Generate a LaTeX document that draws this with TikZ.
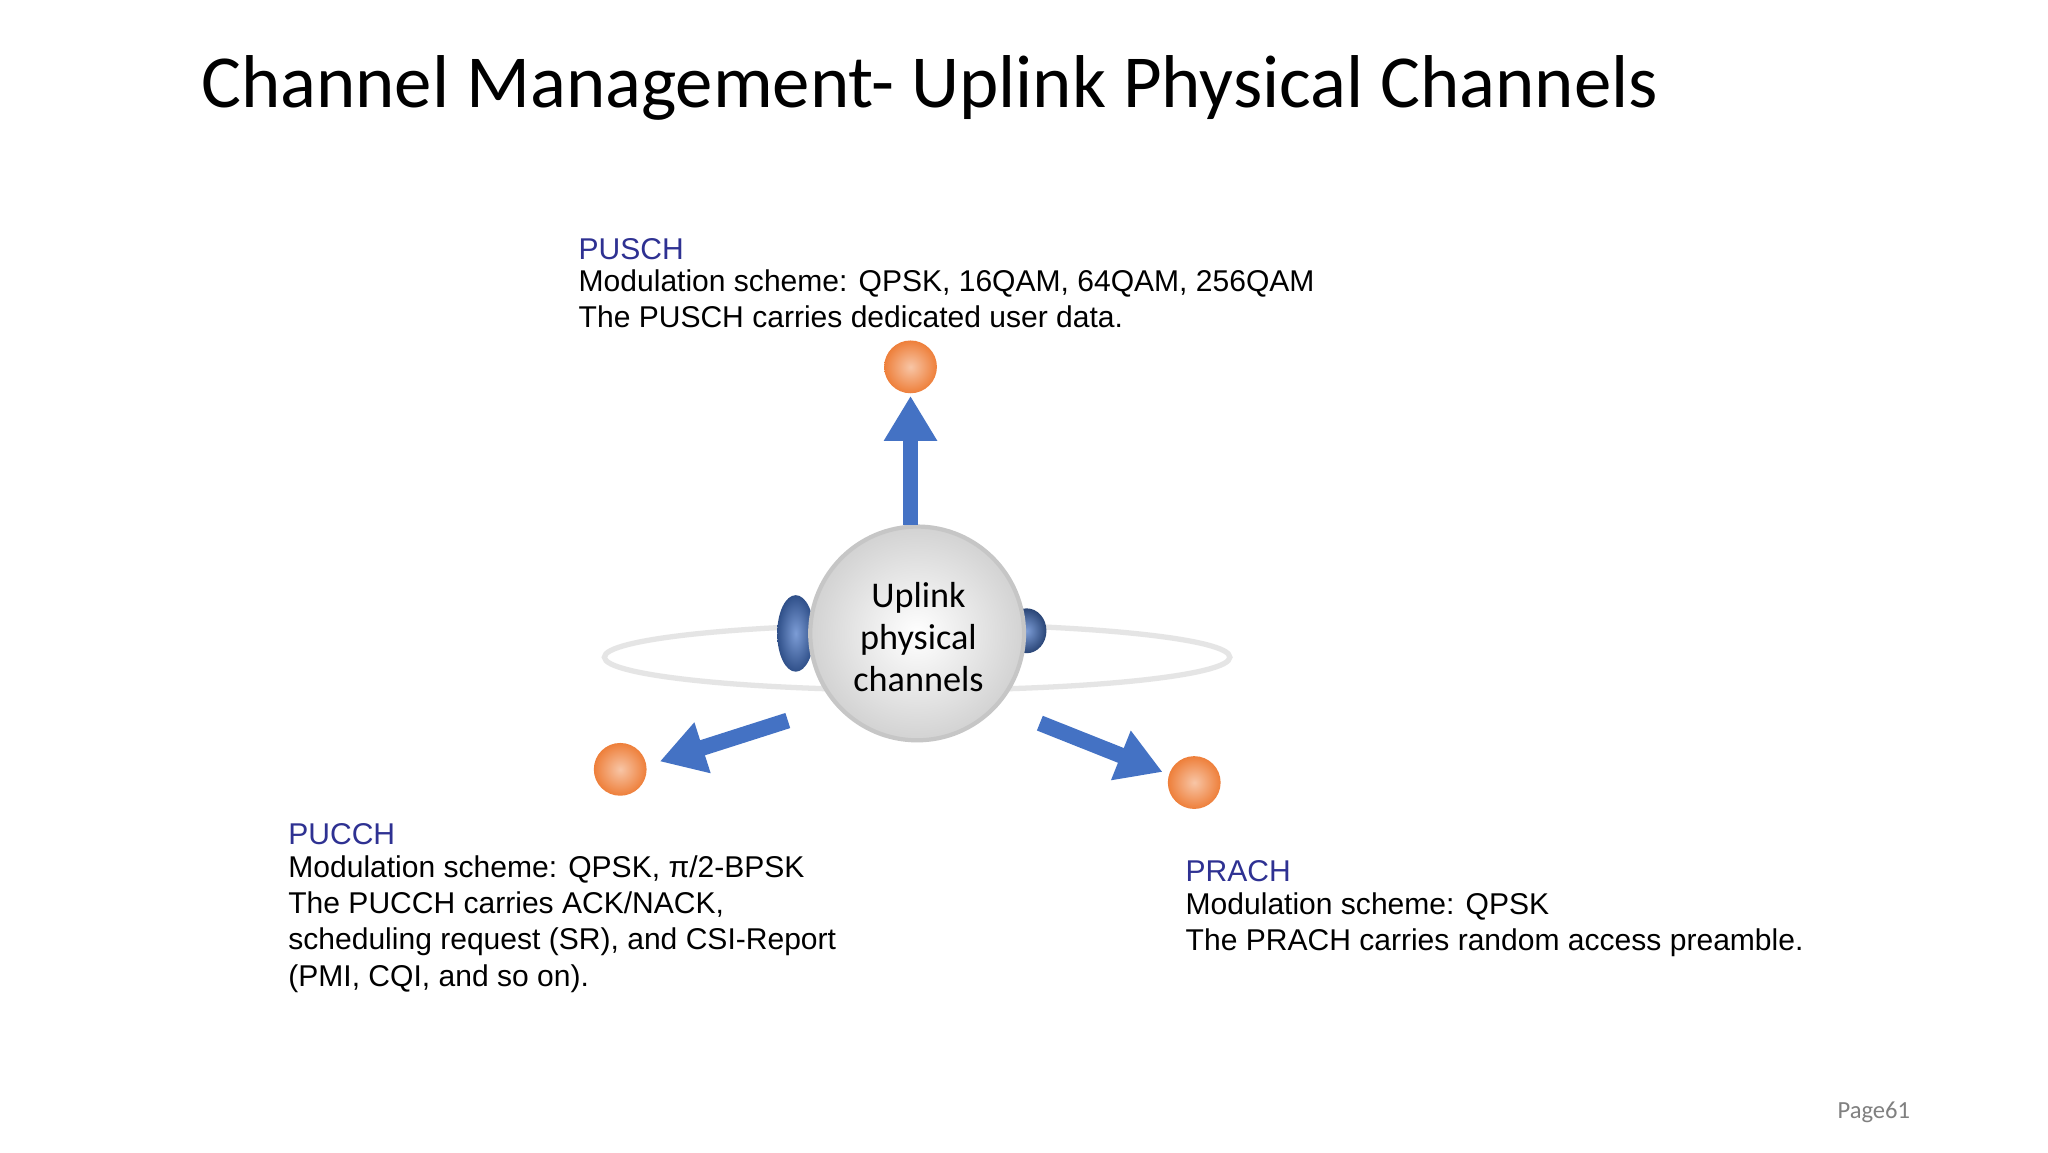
\documentclass[tikz,border=0pt]{standalone}
\usepackage{fontspec}
\setmainfont{Liberation Sans}
\newfontfamily\calib{Carlito}
\usetikzlibrary{arrows.meta,shapes.geometric}
\definecolor{ablue}{HTML}{4472C4}
\definecolor{lblue}{HTML}{2E3192}
\definecolor{orng}{HTML}{EE7F3A}
\begin{document}
\begin{tikzpicture}[x=0.0132cm,y=-0.0132cm,
  ball/.style={circle,minimum size=40*0.0132cm,inner sep=0pt,inner color=orng!45!white,outer color=orng,draw=none},
  arr/.style={draw=ablue,line width=12*0.0132cm,-{Triangle[length=34*0.0132cm,width=38*0.0132cm]}},
  ttl/.style={text=lblue,font=\fontsize{8.55pt}{10pt}\selectfont,anchor=west,inner sep=0pt},
  body/.style={font=\fontsize{8.55pt}{10.3pt}\selectfont,align=left,anchor=north west,inner sep=0pt}]
\useasboundingbox[fill=white] (0,0) rectangle (1552,873);
\node[anchor=west,inner sep=0pt,font=\calib\fontsize{21.3pt}{24pt}\selectfont] (title) at (152,67) {Channel Management- Uplink Physical Channels};
% ring and lobes
\draw[gray!20,line width=4*0.0132cm] (695,498) ellipse [x radius=237,y radius=25];
\node[ellipse,minimum width=28*0.0132cm,minimum height=58*0.0132cm,inner sep=0pt,inner color=ablue!70,outer color=ablue!70!black,draw=none] (lobeL) at (603,480) {};
\node[ellipse,minimum width=30*0.0132cm,minimum height=34*0.0132cm,inner sep=0pt,inner color=ablue!70,outer color=ablue!60!black,draw=none] (lobeR) at (778,478) {};
\node[circle,minimum size=162*0.0132cm,inner sep=0pt,inner color=white,outer color=gray!35,draw=gray!45,line width=1.2pt] (core) at (695,480) {};
\node[align=center,font=\calib\fontsize{10.3pt}{12pt}\selectfont] (coretext) at (696,483) {Uplink\\physical\\channels};
% balls
\node[ball] (pusch) at (690,278) {};
\node[ball] (pucch) at (470,583) {};
\node[ball] (prach) at (905,593) {};
\coordinate (a1s) at (690,398); \coordinate (a1e) at (690,300);
\coordinate (a2s) at (597,546); \coordinate (a2e) at (500,577);
\coordinate (a3s) at (788,548); \coordinate (a3e) at (881,585);
\draw[arr] (a1s) -- (a1e);
\draw[arr] (a2s) -- (a2e);
\draw[arr] (a3s) -- (a3e);
% texts
\node[ttl] (t1) at (438,189) {PUSCH};
\node[body] (b1) at (438,204) {Modulation scheme: QPSK, 16QAM, 64QAM, 256QAM\\The PUSCH carries dedicated user data.};
\node[ttl] (t2) at (218,632) {PUCCH};
\node[body] (b2) at (218,648) {Modulation scheme: QPSK, π/2-BPSK\\The PUCCH carries ACK/NACK,\\scheduling request (SR), and CSI-Report\\(PMI, CQI, and so on).};
\node[ttl] (t3) at (898,660) {PRACH};
\node[body] (b3) at (898,676) {Modulation scheme: QPSK\\The PRACH carries random access preamble.};
\node[anchor=east,inner sep=0pt,text=gray,font=\calib\fontsize{7pt}{8pt}\selectfont] (pg) at (1448,843) {Page61};
\end{tikzpicture}
\end{document}
